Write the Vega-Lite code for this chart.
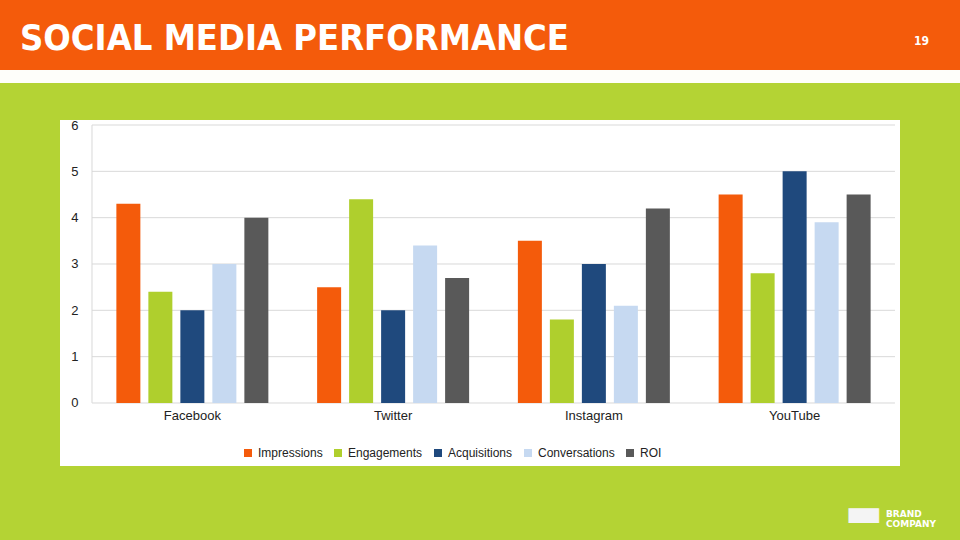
{
  "$schema": "https://vega.github.io/schema/vega-lite/v6.json",
  "padding": 0,
  "background": "#B4D334",
  "bounds": "flush",
  "spacing": 0,
  "config": {
    "view": {"stroke": null},
    "font": "Liberation Sans"
  },
  "vconcat": [
    {
      "width": 960,
      "height": 70,
      "view": {"fill": "#F45B0B", "stroke": null},
      "data": {"values": []},
      "mark": "point",
      "title": {
        "text": "SOCIAL MEDIA PERFORMANCE",
        "anchor": "start",
        "orient": "top",
        "offset": -86,
        "baseline": "alphabetic",
        "dx": 20,
        "font": "DejaVu Sans Condensed",
        "fontSize": 36,
        "fontWeight": "bold",
        "color": "#FFFFFF"
      }
    },
    {
      "width": 960,
      "height": 13,
      "view": {"fill": "#FEFEFA", "stroke": null},
      "data": {"values": []},
      "mark": "point",
      "title": {
        "text": "19",
        "anchor": "end",
        "orient": "top",
        "offset": 13,
        "baseline": "alphabetic",
        "dx": -31,
        "font": "DejaVu Sans Condensed",
        "fontSize": 12,
        "fontWeight": "bold",
        "color": "#FFFFFF"
      }
    },
    {
      "width": 960,
      "height": 37,
      "data": {"values": []},
      "mark": "point"
    },
    {
      "hconcat": [
        {
          "width": 60,
          "height": 346,
          "data": {"values": []},
          "mark": "point"
        },
        {
          "width": 840,
          "height": 346,
          "view": {"fill": "#FFFFFF", "stroke": null},
          "data": {
            "values": [
              {"platform": "Facebook", "metric": "Impressions", "value": 4.3},
              {"platform": "Facebook", "metric": "Engagements", "value": 2.4},
              {"platform": "Facebook", "metric": "Acquisitions", "value": 2.0},
              {"platform": "Facebook", "metric": "Conversations", "value": 3.0},
              {"platform": "Facebook", "metric": "ROI", "value": 4.0},
              {"platform": "Twitter", "metric": "Impressions", "value": 2.5},
              {"platform": "Twitter", "metric": "Engagements", "value": 4.4},
              {"platform": "Twitter", "metric": "Acquisitions", "value": 2.0},
              {"platform": "Twitter", "metric": "Conversations", "value": 3.4},
              {"platform": "Twitter", "metric": "ROI", "value": 2.7},
              {"platform": "Instagram", "metric": "Impressions", "value": 3.5},
              {"platform": "Instagram", "metric": "Engagements", "value": 1.8},
              {"platform": "Instagram", "metric": "Acquisitions", "value": 3.0},
              {"platform": "Instagram", "metric": "Conversations", "value": 2.1},
              {"platform": "Instagram", "metric": "ROI", "value": 4.2},
              {"platform": "YouTube", "metric": "Impressions", "value": 4.5},
              {"platform": "YouTube", "metric": "Engagements", "value": 2.8},
              {"platform": "YouTube", "metric": "Acquisitions", "value": 5.0},
              {"platform": "YouTube", "metric": "Conversations", "value": 3.9},
              {"platform": "YouTube", "metric": "ROI", "value": 4.5}
            ]
          },
          "layer": [
            {
              "data": {"values": [{"g": 0}, {"g": 1}, {"g": 2}, {"g": 3}, {"g": 4}, {"g": 5}, {"g": 6}]},
              "mark": {"type": "rule", "color": "#D9D9D9", "strokeWidth": 1},
              "encoding": {
                "y": {
                  "field": "g",
                  "type": "quantitative",
                  "scale": {"domain": [-1.36, 6.108], "nice": false, "zero": false},
                  "axis": {
                    "title": null,
                    "offset": -32,
                    "values": [0, 1, 2, 3, 4, 5, 6],
                    "grid": false,
                    "domain": false,
                    "ticks": false,
                    "labelPadding": 14,
                    "labelFont": "Liberation Sans",
                    "labelFontSize": 13,
                    "labelColor": "#222222"
                  }
                },
                "x": {"datum": 0, "type": "quantitative", "scale": {"domain": [-0.03985, 1.00623], "nice": false, "zero": false}, "axis": null},
                "x2": {"datum": 1}
              }
            },
            {
              "data": {"values": [{"g": 0}]},
              "mark": {"type": "rule", "color": "#D9D9D9", "strokeWidth": 1},
              "encoding": {
                "x": {"datum": 0, "type": "quantitative", "scale": {"domain": [-0.03985, 1.00623], "nice": false, "zero": false}, "axis": null},
                "y": {"datum": 0, "type": "quantitative"},
                "y2": {"datum": 6}
              }
            },
            {
              "mark": {"type": "bar"},
              "encoding": {
                "x": {
                  "field": "platform",
                  "type": "nominal",
                  "sort": ["Facebook", "Twitter", "Instagram", "YouTube"],
                  "scale": {"paddingInner": 0, "paddingOuter": 0.0921, "align": 0.865},
                  "axis": {
                    "title": null,
                    "orient": "bottom",
                    "offset": -63,
                    "domain": false,
                    "ticks": false,
                    "labelAngle": 0,
                    "labelPadding": 6,
                    "labelFont": "Liberation Sans",
                    "labelFontSize": 13,
                    "labelColor": "#222222"
                  }
                },
                "xOffset": {
                  "field": "metric",
                  "type": "nominal",
                  "sort": ["Impressions", "Engagements", "Acquisitions", "Conversations", "ROI"],
                  "scale": {"paddingInner": 0.25, "paddingOuter": 0.762}
                },
                "y": {
                  "field": "value",
                  "type": "quantitative",
                  "scale": {"domain": [-1.36, 6.108], "nice": false, "zero": false},
                  "axis": {
                    "title": null,
                    "offset": -32,
                    "values": [0, 1, 2, 3, 4, 5, 6],
                    "grid": false,
                    "domain": false,
                    "ticks": false,
                    "labelPadding": 14,
                    "labelFont": "Liberation Sans",
                    "labelFontSize": 13,
                    "labelColor": "#222222"
                  }
                },
                "y2": {"datum": 0},
                "color": {
                  "field": "metric",
                  "type": "nominal",
                  "sort": ["Impressions", "Engagements", "Acquisitions", "Conversations", "ROI"],
                  "scale": {
                    "domain": ["Impressions", "Engagements", "Acquisitions", "Conversations", "ROI"],
                    "range": ["#F45B0B", "#AFCF2D", "#1F497D", "#C6D9F1", "#595959"]
                  },
                  "legend": {
                    "title": null,
                    "orient": "none",
                    "direction": "horizontal",
                    "legendX": 242,
                    "legendY": 447,
                    "symbolType": "square",
                    "symbolSize": 64,
                    "symbolStrokeWidth": 0,
                    "labelOffset": 4,
                    "columnPadding": 9,
                    "labelFont": "Liberation Sans",
                    "labelFontSize": 12,
                    "labelColor": "#222222"
                  }
                }
              }
            }
          ],
          "resolve": {"scale": {"x": "independent"}}
        }
      ],
      "spacing": 0,
      "bounds": "flush"
    },
    {
      "width": 960,
      "height": 383,
      "data": {"values": []},
      "mark": "point",
      "title": {
        "text": "▬",
        "anchor": "start",
        "orient": "top",
        "offset": -446,
        "baseline": "alphabetic",
        "dx": 845,
        "font": "DejaVu Sans",
        "fontSize": 40,
        "color": "#F4F4F4"
      }
    },
    {
      "width": 960,
      "height": 37,
      "data": {"values": []},
      "mark": "point",
      "title": {
        "text": ["BRAND", "COMPANY"],
        "anchor": "start",
        "orient": "top",
        "offset": -26,
        "baseline": "top",
        "dx": 886,
        "align": "left",
        "font": "DejaVu Sans",
        "fontSize": 9,
        "fontWeight": "bold",
        "lineHeight": 10,
        "color": "#FFFFFF"
      }
    }
  ]
}
